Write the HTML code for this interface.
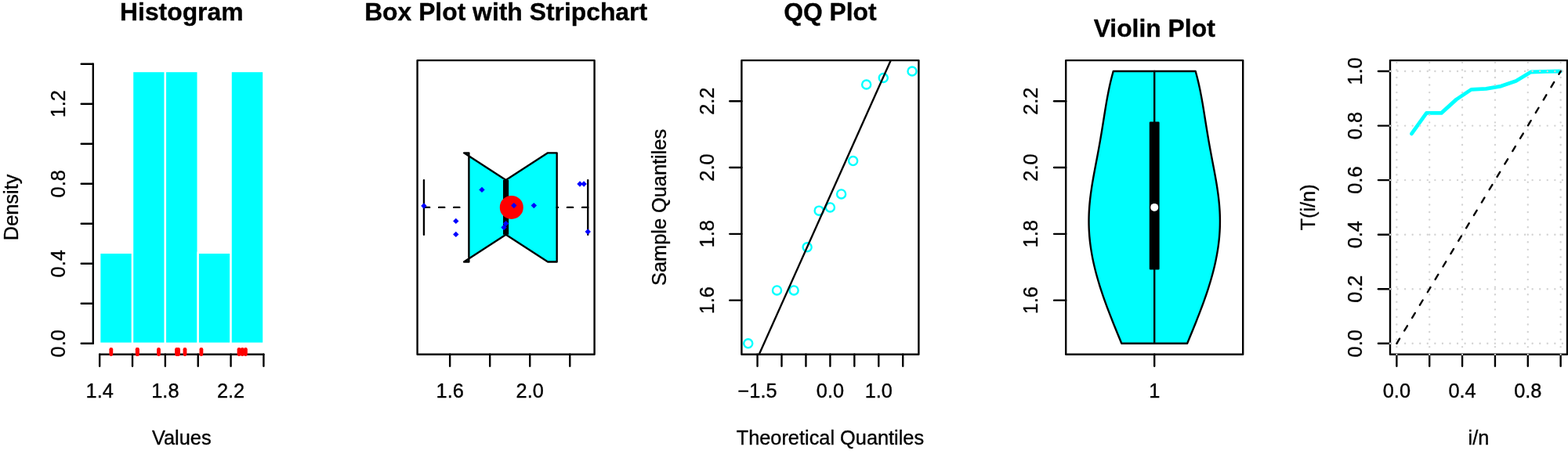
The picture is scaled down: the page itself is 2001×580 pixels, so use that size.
<!DOCTYPE html>
<html lang="en">
<head>
<meta charset="utf-8">
<title>Histogram, Box Plot with Stripchart, QQ Plot, Violin Plot, TTT Plot</title>
<style>
html,body{margin:0;padding:0;background:#fff;}
body{width:2001px;height:580px;overflow:hidden;}
svg{display:block;}
svg text{font-family:"Liberation Sans", Arial, Helvetica, sans-serif;fill:#000;stroke:#000;stroke-width:0.35px;stroke-linejoin:round;}
</style>
</head>
<body>
<svg width="2001" height="580" viewBox="0 0 2001 580">
<rect width="2001" height="580" fill="#fff"/>
<g id="hist">
<rect x="127.17" y="322.86" width="41.85" height="115.93" fill="#00ffff" stroke="#fff" stroke-width="2.39"/>
<rect x="169.02" y="91.01" width="41.85" height="347.78" fill="#00ffff" stroke="#fff" stroke-width="2.39"/>
<rect x="210.87" y="91.01" width="41.85" height="347.78" fill="#00ffff" stroke="#fff" stroke-width="2.39"/>
<rect x="252.73" y="322.86" width="41.85" height="115.93" fill="#00ffff" stroke="#fff" stroke-width="2.39"/>
<rect x="294.58" y="91.01" width="41.85" height="347.78" fill="#00ffff" stroke="#fff" stroke-width="2.39"/>
<line x1="127.17" y1="452.7" x2="336.43" y2="452.7" stroke="#000" stroke-width="2.39" stroke-linecap="round"/>
<line x1="127.17" y1="452.7" x2="127.17" y2="467.8" stroke="#000" stroke-width="2.39" stroke-linecap="round"/>
<line x1="169.02" y1="452.7" x2="169.02" y2="467.8" stroke="#000" stroke-width="2.39" stroke-linecap="round"/>
<line x1="210.87" y1="452.7" x2="210.87" y2="467.8" stroke="#000" stroke-width="2.39" stroke-linecap="round"/>
<line x1="252.73" y1="452.7" x2="252.73" y2="467.8" stroke="#000" stroke-width="2.39" stroke-linecap="round"/>
<line x1="294.58" y1="452.7" x2="294.58" y2="467.8" stroke="#000" stroke-width="2.39" stroke-linecap="round"/>
<line x1="336.43" y1="452.7" x2="336.43" y2="467.8" stroke="#000" stroke-width="2.39" stroke-linecap="round"/>
<text x="127.17" y="507.6" font-size="25.35" text-anchor="middle">1.4</text>
<text x="210.87" y="507.6" font-size="25.35" text-anchor="middle">1.8</text>
<text x="294.58" y="507.6" font-size="25.35" text-anchor="middle">2.2</text>
<line x1="118.8" y1="438.79" x2="118.8" y2="81.74" stroke="#000" stroke-width="2.39" stroke-linecap="round"/>
<line x1="118.8" y1="438.79" x2="103.7" y2="438.79" stroke="#000" stroke-width="2.39" stroke-linecap="round"/>
<line x1="118.8" y1="387.78" x2="103.7" y2="387.78" stroke="#000" stroke-width="2.39" stroke-linecap="round"/>
<line x1="118.8" y1="336.77" x2="103.7" y2="336.77" stroke="#000" stroke-width="2.39" stroke-linecap="round"/>
<line x1="118.8" y1="285.77" x2="103.7" y2="285.77" stroke="#000" stroke-width="2.39" stroke-linecap="round"/>
<line x1="118.8" y1="234.76" x2="103.7" y2="234.76" stroke="#000" stroke-width="2.39" stroke-linecap="round"/>
<line x1="118.8" y1="183.75" x2="103.7" y2="183.75" stroke="#000" stroke-width="2.39" stroke-linecap="round"/>
<line x1="118.8" y1="132.74" x2="103.7" y2="132.74" stroke="#000" stroke-width="2.39" stroke-linecap="round"/>
<line x1="118.8" y1="81.74" x2="103.7" y2="81.74" stroke="#000" stroke-width="2.39" stroke-linecap="round"/>
<text x="83" y="438.79" font-size="25.35" text-anchor="middle" transform="rotate(-90 83 438.79)">0.0</text>
<text x="83" y="336.77" font-size="25.35" text-anchor="middle" transform="rotate(-90 83 336.77)">0.4</text>
<text x="83" y="234.76" font-size="25.35" text-anchor="middle" transform="rotate(-90 83 234.76)">0.8</text>
<text x="83" y="132.74" font-size="25.35" text-anchor="middle" transform="rotate(-90 83 132.74)">1.2</text>
<line x1="141.82" y1="452.7" x2="141.82" y2="446.3" stroke="#ff0000" stroke-width="4.78" stroke-linecap="round"/>
<line x1="175.3" y1="452.7" x2="175.3" y2="446.3" stroke="#ff0000" stroke-width="4.78" stroke-linecap="round"/>
<line x1="175.3" y1="452.7" x2="175.3" y2="446.3" stroke="#ff0000" stroke-width="4.78" stroke-linecap="round"/>
<line x1="202.5" y1="452.7" x2="202.5" y2="446.3" stroke="#ff0000" stroke-width="4.78" stroke-linecap="round"/>
<line x1="225.52" y1="452.7" x2="225.52" y2="446.3" stroke="#ff0000" stroke-width="4.78" stroke-linecap="round"/>
<line x1="227.61" y1="452.7" x2="227.61" y2="446.3" stroke="#ff0000" stroke-width="4.78" stroke-linecap="round"/>
<line x1="235.99" y1="452.7" x2="235.99" y2="446.3" stroke="#ff0000" stroke-width="4.78" stroke-linecap="round"/>
<line x1="256.91" y1="452.7" x2="256.91" y2="446.3" stroke="#ff0000" stroke-width="4.78" stroke-linecap="round"/>
<line x1="305.04" y1="452.7" x2="305.04" y2="446.3" stroke="#ff0000" stroke-width="4.78" stroke-linecap="round"/>
<line x1="309.23" y1="452.7" x2="309.23" y2="446.3" stroke="#ff0000" stroke-width="4.78" stroke-linecap="round"/>
<line x1="313.41" y1="452.7" x2="313.41" y2="446.3" stroke="#ff0000" stroke-width="4.78" stroke-linecap="round"/>
<text x="231.8" y="26.15" font-size="31.85" text-anchor="middle" font-weight="bold">Histogram</text>
<text x="231.8" y="568.2" font-size="25.35" text-anchor="middle">Values</text>
<text x="22.6" y="264.9" font-size="25.35" text-anchor="middle" transform="rotate(-90 22.6 264.9)">Density</text>
</g>
<g id="boxplot">
<clipPath id="c1"><rect x="532.6" y="77.1" width="226" height="375.6"/></clipPath>
<g clip-path="url(#c1)">
<polygon points="598.39,334.46 592.11,334.46 645.6,299.68 699.09,334.46 710.67,334.46 710.67,195.34 699.09,195.34 645.6,230.12 592.11,195.34 598.39,195.34" fill="#00ffff" stroke="none"/>
<line x1="645.6" y1="299.68" x2="645.6" y2="230.12" stroke="#000" stroke-width="7.17" stroke-linecap="butt"/>
<line x1="540.97" y1="264.9" x2="596.89" y2="264.9" stroke="#000" stroke-width="2.39" stroke-linecap="round" stroke-dasharray="7.17 11.95"/>
<line x1="750.23" y1="264.9" x2="710.67" y2="264.9" stroke="#000" stroke-width="2.39" stroke-linecap="round" stroke-dasharray="7.17 11.95"/>
<line x1="540.97" y1="299.68" x2="540.97" y2="230.12" stroke="#000" stroke-width="2.39" stroke-linecap="round"/>
<line x1="750.23" y1="299.68" x2="750.23" y2="230.12" stroke="#000" stroke-width="2.39" stroke-linecap="round"/>
<polygon points="598.39,334.46 592.11,334.46 645.6,299.68 699.09,334.46 710.67,334.46 710.67,195.34 699.09,195.34 645.6,230.12 592.11,195.34 598.39,195.34" fill="none" stroke="#000" stroke-width="2.39" stroke-linejoin="round"/>
</g>
<rect x="532.6" y="77.1" width="226" height="375.6" fill="none" stroke="#000" stroke-width="2.39" stroke-linejoin="round"/>
<line x1="574.15" y1="452.7" x2="574.15" y2="467.8" stroke="#000" stroke-width="2.39" stroke-linecap="round"/>
<line x1="625.18" y1="452.7" x2="625.18" y2="467.8" stroke="#000" stroke-width="2.39" stroke-linecap="round"/>
<line x1="676.22" y1="452.7" x2="676.22" y2="467.8" stroke="#000" stroke-width="2.39" stroke-linecap="round"/>
<line x1="727.26" y1="452.7" x2="727.26" y2="467.8" stroke="#000" stroke-width="2.39" stroke-linecap="round"/>
<text x="574.15" y="507.6" font-size="25.35" text-anchor="middle">1.6</text>
<text x="676.22" y="507.6" font-size="25.35" text-anchor="middle">2.0</text>
<circle cx="652.79" cy="264.9" r="15" fill="#ff0000"/>
<polygon points="537.27,263 540.97,259.3 544.67,263 540.97,266.7" fill="#0000ff"/>
<polygon points="578.1,282.4 581.8,278.7 585.5,282.4 581.8,286.1" fill="#0000ff"/>
<polygon points="578.1,299.4 581.8,295.7 585.5,299.4 581.8,303.1" fill="#0000ff"/>
<polygon points="611.28,242.4 614.98,238.7 618.68,242.4 614.98,246.1" fill="#0000ff"/>
<polygon points="639.35,290.6 643.05,286.9 646.75,290.6 643.05,294.3" fill="#0000ff"/>
<polygon points="641.9,285.6 645.6,281.9 649.3,285.6 645.6,289.3" fill="#0000ff"/>
<polygon points="652.11,262.6 655.81,258.9 659.51,262.6 655.81,266.3" fill="#0000ff"/>
<polygon points="677.63,262.6 681.33,258.9 685.03,262.6 681.33,266.3" fill="#0000ff"/>
<polygon points="736.32,235 740.02,231.3 743.72,235 740.02,238.7" fill="#0000ff"/>
<polygon points="741.43,235 745.13,231.3 748.83,235 745.13,238.7" fill="#0000ff"/>
<polygon points="746.53,296 750.23,292.3 753.93,296 750.23,299.7" fill="#0000ff"/>
<text x="645.6" y="26.15" font-size="31.85" text-anchor="middle" font-weight="bold">Box Plot with Stripchart</text>
</g>
<g id="qq">
<clipPath id="c2"><rect x="946.4" y="77.1" width="226" height="375.6"/></clipPath>
<circle cx="954.77" cy="438.79" r="5.55" fill="none" stroke="#00ffff" stroke-width="2.39"/>
<circle cx="991.52" cy="370.93" r="5.55" fill="none" stroke="#00ffff" stroke-width="2.39"/>
<circle cx="1013.12" cy="370.93" r="5.55" fill="none" stroke="#00ffff" stroke-width="2.39"/>
<circle cx="1030.14" cy="315.79" r="5.55" fill="none" stroke="#00ffff" stroke-width="2.39"/>
<circle cx="1045.17" cy="269.14" r="5.55" fill="none" stroke="#00ffff" stroke-width="2.39"/>
<circle cx="1059.4" cy="264.9" r="5.55" fill="none" stroke="#00ffff" stroke-width="2.39"/>
<circle cx="1073.63" cy="247.94" r="5.55" fill="none" stroke="#00ffff" stroke-width="2.39"/>
<circle cx="1088.66" cy="205.52" r="5.55" fill="none" stroke="#00ffff" stroke-width="2.39"/>
<circle cx="1105.68" cy="107.98" r="5.55" fill="none" stroke="#00ffff" stroke-width="2.39"/>
<circle cx="1127.28" cy="99.49" r="5.55" fill="none" stroke="#00ffff" stroke-width="2.39"/>
<circle cx="1164.03" cy="91.01" r="5.55" fill="none" stroke="#00ffff" stroke-width="2.39"/>
<line x1="873.74" y1="665.06" x2="1245.06" y2="-164.95" stroke="#000" stroke-width="2.39" stroke-linecap="round" clip-path="url(#c2)"/>
<rect x="946.4" y="77.1" width="226" height="375.6" fill="none" stroke="#000" stroke-width="2.39" stroke-linejoin="round"/>
<line x1="966.57" y1="452.7" x2="966.57" y2="467.8" stroke="#000" stroke-width="2.39" stroke-linecap="round"/>
<line x1="997.51" y1="452.7" x2="997.51" y2="467.8" stroke="#000" stroke-width="2.39" stroke-linecap="round"/>
<line x1="1028.46" y1="452.7" x2="1028.46" y2="467.8" stroke="#000" stroke-width="2.39" stroke-linecap="round"/>
<line x1="1059.4" y1="452.7" x2="1059.4" y2="467.8" stroke="#000" stroke-width="2.39" stroke-linecap="round"/>
<line x1="1090.34" y1="452.7" x2="1090.34" y2="467.8" stroke="#000" stroke-width="2.39" stroke-linecap="round"/>
<line x1="1121.29" y1="452.7" x2="1121.29" y2="467.8" stroke="#000" stroke-width="2.39" stroke-linecap="round"/>
<line x1="1152.23" y1="452.7" x2="1152.23" y2="467.8" stroke="#000" stroke-width="2.39" stroke-linecap="round"/>
<text x="966.57" y="507.6" font-size="25.35" text-anchor="middle">−1.5</text>
<text x="1059.4" y="507.6" font-size="25.35" text-anchor="middle">0.0</text>
<text x="1121.29" y="507.6" font-size="25.35" text-anchor="middle">1.0</text>
<line x1="946.4" y1="383.65" x2="931.3" y2="383.65" stroke="#000" stroke-width="2.39" stroke-linecap="round"/>
<line x1="946.4" y1="298.83" x2="931.3" y2="298.83" stroke="#000" stroke-width="2.39" stroke-linecap="round"/>
<line x1="946.4" y1="214.01" x2="931.3" y2="214.01" stroke="#000" stroke-width="2.39" stroke-linecap="round"/>
<line x1="946.4" y1="129.18" x2="931.3" y2="129.18" stroke="#000" stroke-width="2.39" stroke-linecap="round"/>
<text x="910.6" y="383.65" font-size="25.35" text-anchor="middle" transform="rotate(-90 910.6 383.65)">1.6</text>
<text x="910.6" y="298.83" font-size="25.35" text-anchor="middle" transform="rotate(-90 910.6 298.83)">1.8</text>
<text x="910.6" y="214.01" font-size="25.35" text-anchor="middle" transform="rotate(-90 910.6 214.01)">2.0</text>
<text x="910.6" y="129.18" font-size="25.35" text-anchor="middle" transform="rotate(-90 910.6 129.18)">2.2</text>
<text x="1059.4" y="26.15" font-size="31.85" text-anchor="middle" font-weight="bold">QQ Plot</text>
<text x="1059.4" y="568.2" font-size="25.35" text-anchor="middle">Theoretical Quantiles</text>
<text x="850.2" y="264.9" font-size="25.35" text-anchor="middle" transform="rotate(-90 850.2 264.9)">Sample Quantiles</text>
</g>
<g id="violin">
<polygon points="1431.29,438.79 1429.86,435.28 1428.42,431.76 1426.98,428.25 1425.54,424.74 1424.11,421.22 1422.69,417.71 1421.27,414.2 1419.87,410.69 1418.48,407.17 1417.1,403.66 1415.74,400.15 1414.4,396.63 1413.07,393.12 1411.77,389.61 1410.49,386.1 1409.24,382.58 1408.01,379.07 1406.81,375.56 1405.64,372.04 1404.49,368.53 1403.38,365.02 1402.31,361.5 1401.26,357.99 1400.26,354.48 1399.28,350.97 1398.35,347.45 1397.46,343.94 1396.61,340.43 1395.8,336.91 1395.03,333.4 1394.31,329.89 1393.63,326.38 1393.01,322.86 1392.43,319.35 1391.9,315.84 1391.42,312.32 1390.99,308.81 1390.62,305.3 1390.29,301.79 1390.03,298.27 1389.81,294.76 1389.65,291.25 1389.55,287.73 1389.5,284.22 1389.5,280.71 1389.56,277.2 1389.66,273.68 1389.82,270.17 1390.04,266.66 1390.29,263.14 1390.6,259.63 1390.95,256.12 1391.34,252.6 1391.77,249.09 1392.24,245.58 1392.75,242.07 1393.28,238.55 1393.84,235.04 1394.43,231.53 1395.04,228.01 1395.66,224.5 1396.31,220.99 1396.96,217.48 1397.62,213.96 1398.29,210.45 1398.95,206.94 1399.62,203.42 1400.29,199.91 1400.95,196.4 1401.6,192.89 1402.25,189.37 1402.88,185.86 1403.51,182.35 1404.12,178.83 1404.72,175.32 1405.32,171.81 1405.9,168.3 1406.47,164.78 1407.04,161.27 1407.6,157.76 1408.16,154.24 1408.71,150.73 1409.27,147.22 1409.83,143.7 1410.4,140.19 1410.98,136.68 1411.57,133.17 1412.18,129.65 1412.8,126.14 1413.45,122.63 1414.13,119.11 1414.83,115.6 1415.57,112.09 1416.33,108.58 1417.13,105.06 1417.97,101.55 1418.85,98.04 1419.77,94.52 1420.72,91.01 1525.68,91.01 1526.63,94.52 1527.55,98.04 1528.43,101.55 1529.27,105.06 1530.07,108.58 1530.83,112.09 1531.57,115.6 1532.27,119.11 1532.95,122.63 1533.6,126.14 1534.22,129.65 1534.83,133.17 1535.42,136.68 1536,140.19 1536.57,143.7 1537.13,147.22 1537.69,150.73 1538.24,154.24 1538.8,157.76 1539.36,161.27 1539.93,164.78 1540.5,168.3 1541.08,171.81 1541.68,175.32 1542.28,178.83 1542.89,182.35 1543.52,185.86 1544.15,189.37 1544.8,192.89 1545.45,196.4 1546.11,199.91 1546.78,203.42 1547.45,206.94 1548.11,210.45 1548.78,213.96 1549.44,217.48 1550.09,220.99 1550.74,224.5 1551.36,228.01 1551.97,231.53 1552.56,235.04 1553.12,238.55 1553.65,242.07 1554.16,245.58 1554.63,249.09 1555.06,252.6 1555.45,256.12 1555.8,259.63 1556.11,263.14 1556.36,266.66 1556.58,270.17 1556.74,273.68 1556.84,277.2 1556.9,280.71 1556.9,284.22 1556.85,287.73 1556.75,291.25 1556.59,294.76 1556.37,298.27 1556.11,301.79 1555.78,305.3 1555.41,308.81 1554.98,312.32 1554.5,315.84 1553.97,319.35 1553.39,322.86 1552.77,326.38 1552.09,329.89 1551.37,333.4 1550.6,336.91 1549.79,340.43 1548.94,343.94 1548.05,347.45 1547.12,350.97 1546.14,354.48 1545.14,357.99 1544.09,361.5 1543.02,365.02 1541.91,368.53 1540.76,372.04 1539.59,375.56 1538.39,379.07 1537.16,382.58 1535.91,386.1 1534.63,389.61 1533.33,393.12 1532,396.63 1530.66,400.15 1529.3,403.66 1527.92,407.17 1526.53,410.69 1525.13,414.2 1523.71,417.71 1522.29,421.22 1520.86,424.74 1519.42,428.25 1517.98,431.76 1516.54,435.28 1515.11,438.79" fill="#00ffff" stroke="#000" stroke-width="2.39" stroke-linejoin="round"/>
<line x1="1473.2" y1="438.79" x2="1473.2" y2="91.01" stroke="#000" stroke-width="2.39" stroke-linecap="round"/>
<rect x="1467.97" y="156.75" width="10.46" height="186.61" fill="#000" stroke="#000" stroke-width="2.39" stroke-linejoin="round"/>
<circle cx="1473.2" cy="264.9" r="5" fill="#fff"/>
<rect x="1360.2" y="77.1" width="226" height="375.6" fill="none" stroke="#000" stroke-width="2.39" stroke-linejoin="round"/>
<line x1="1473.2" y1="452.7" x2="1473.2" y2="467.8" stroke="#000" stroke-width="2.39" stroke-linecap="round"/>
<text x="1473.2" y="507.6" font-size="25.35" text-anchor="middle">1</text>
<line x1="1360.2" y1="383.65" x2="1345.1" y2="383.65" stroke="#000" stroke-width="2.39" stroke-linecap="round"/>
<line x1="1360.2" y1="298.83" x2="1345.1" y2="298.83" stroke="#000" stroke-width="2.39" stroke-linecap="round"/>
<line x1="1360.2" y1="214.01" x2="1345.1" y2="214.01" stroke="#000" stroke-width="2.39" stroke-linecap="round"/>
<line x1="1360.2" y1="129.18" x2="1345.1" y2="129.18" stroke="#000" stroke-width="2.39" stroke-linecap="round"/>
<text x="1324.4" y="383.65" font-size="25.35" text-anchor="middle" transform="rotate(-90 1324.4 383.65)">1.6</text>
<text x="1324.4" y="298.83" font-size="25.35" text-anchor="middle" transform="rotate(-90 1324.4 298.83)">1.8</text>
<text x="1324.4" y="214.01" font-size="25.35" text-anchor="middle" transform="rotate(-90 1324.4 214.01)">2.0</text>
<text x="1324.4" y="129.18" font-size="25.35" text-anchor="middle" transform="rotate(-90 1324.4 129.18)">2.2</text>
<text x="1473.2" y="46.6" font-size="31.85" text-anchor="middle" font-weight="bold">Violin Plot</text>
</g>
<g id="ttt">
<polyline points="1801.39,170.87 1820.42,144.36 1839.44,144.36 1858.46,127.13 1877.49,114.37 1896.51,113.38 1915.54,110.07 1934.56,103.44 1953.58,92.01 1972.61,91.34 1991.63,91.01" fill="none" stroke="#00ffff" stroke-width="4.78" stroke-linecap="round" stroke-linejoin="round"/>
<rect x="1774" y="77.1" width="226" height="375.6" fill="none" stroke="#000" stroke-width="2.39" stroke-linejoin="round"/>
<line x1="1782.37" y1="452.7" x2="1782.37" y2="467.8" stroke="#000" stroke-width="2.39" stroke-linecap="round"/>
<line x1="1824.22" y1="452.7" x2="1824.22" y2="467.8" stroke="#000" stroke-width="2.39" stroke-linecap="round"/>
<line x1="1866.07" y1="452.7" x2="1866.07" y2="467.8" stroke="#000" stroke-width="2.39" stroke-linecap="round"/>
<line x1="1907.93" y1="452.7" x2="1907.93" y2="467.8" stroke="#000" stroke-width="2.39" stroke-linecap="round"/>
<line x1="1949.78" y1="452.7" x2="1949.78" y2="467.8" stroke="#000" stroke-width="2.39" stroke-linecap="round"/>
<line x1="1991.63" y1="452.7" x2="1991.63" y2="467.8" stroke="#000" stroke-width="2.39" stroke-linecap="round"/>
<text x="1782.37" y="507.6" font-size="25.35" text-anchor="middle">0.0</text>
<text x="1866.07" y="507.6" font-size="25.35" text-anchor="middle">0.4</text>
<text x="1949.78" y="507.6" font-size="25.35" text-anchor="middle">0.8</text>
<line x1="1774" y1="438.79" x2="1758.9" y2="438.79" stroke="#000" stroke-width="2.39" stroke-linecap="round"/>
<line x1="1774" y1="369.23" x2="1758.9" y2="369.23" stroke="#000" stroke-width="2.39" stroke-linecap="round"/>
<line x1="1774" y1="299.68" x2="1758.9" y2="299.68" stroke="#000" stroke-width="2.39" stroke-linecap="round"/>
<line x1="1774" y1="230.12" x2="1758.9" y2="230.12" stroke="#000" stroke-width="2.39" stroke-linecap="round"/>
<line x1="1774" y1="160.57" x2="1758.9" y2="160.57" stroke="#000" stroke-width="2.39" stroke-linecap="round"/>
<line x1="1774" y1="91.01" x2="1758.9" y2="91.01" stroke="#000" stroke-width="2.39" stroke-linecap="round"/>
<text x="1738.2" y="438.79" font-size="25.35" text-anchor="middle" transform="rotate(-90 1738.2 438.79)">0.0</text>
<text x="1738.2" y="369.23" font-size="25.35" text-anchor="middle" transform="rotate(-90 1738.2 369.23)">0.2</text>
<text x="1738.2" y="299.68" font-size="25.35" text-anchor="middle" transform="rotate(-90 1738.2 299.68)">0.4</text>
<text x="1738.2" y="230.12" font-size="25.35" text-anchor="middle" transform="rotate(-90 1738.2 230.12)">0.6</text>
<text x="1738.2" y="160.57" font-size="25.35" text-anchor="middle" transform="rotate(-90 1738.2 160.57)">0.8</text>
<text x="1738.2" y="91.01" font-size="25.35" text-anchor="middle" transform="rotate(-90 1738.2 91.01)">1.0</text>
<line x1="1782.37" y1="452.7" x2="1782.37" y2="77.1" stroke="#d3d3d3" stroke-width="2.39" stroke-linecap="round" stroke-dasharray="0 9.56"/>
<line x1="1824.22" y1="452.7" x2="1824.22" y2="77.1" stroke="#d3d3d3" stroke-width="2.39" stroke-linecap="round" stroke-dasharray="0 9.56"/>
<line x1="1866.07" y1="452.7" x2="1866.07" y2="77.1" stroke="#d3d3d3" stroke-width="2.39" stroke-linecap="round" stroke-dasharray="0 9.56"/>
<line x1="1907.93" y1="452.7" x2="1907.93" y2="77.1" stroke="#d3d3d3" stroke-width="2.39" stroke-linecap="round" stroke-dasharray="0 9.56"/>
<line x1="1949.78" y1="452.7" x2="1949.78" y2="77.1" stroke="#d3d3d3" stroke-width="2.39" stroke-linecap="round" stroke-dasharray="0 9.56"/>
<line x1="1991.63" y1="452.7" x2="1991.63" y2="77.1" stroke="#d3d3d3" stroke-width="2.39" stroke-linecap="round" stroke-dasharray="0 9.56"/>
<line x1="1774" y1="438.79" x2="2000" y2="438.79" stroke="#d3d3d3" stroke-width="2.39" stroke-linecap="round" stroke-dasharray="0 9.56"/>
<line x1="1774" y1="369.23" x2="2000" y2="369.23" stroke="#d3d3d3" stroke-width="2.39" stroke-linecap="round" stroke-dasharray="0 9.56"/>
<line x1="1774" y1="299.68" x2="2000" y2="299.68" stroke="#d3d3d3" stroke-width="2.39" stroke-linecap="round" stroke-dasharray="0 9.56"/>
<line x1="1774" y1="230.12" x2="2000" y2="230.12" stroke="#d3d3d3" stroke-width="2.39" stroke-linecap="round" stroke-dasharray="0 9.56"/>
<line x1="1774" y1="160.57" x2="2000" y2="160.57" stroke="#d3d3d3" stroke-width="2.39" stroke-linecap="round" stroke-dasharray="0 9.56"/>
<line x1="1774" y1="91.01" x2="2000" y2="91.01" stroke="#d3d3d3" stroke-width="2.39" stroke-linecap="round" stroke-dasharray="0 9.56"/>
<line x1="1782.37" y1="438.79" x2="1991.63" y2="91.01" stroke="#000" stroke-width="2.39" stroke-linecap="round" stroke-dasharray="7.17 11.95"/>
<text x="1887" y="568.2" font-size="25.35" text-anchor="middle">i/n</text>
<text x="1677.8" y="264.9" font-size="25.35" text-anchor="middle" transform="rotate(-90 1677.8 264.9)">T(i/n)</text>
</g>
</svg>
</body>
</html>
